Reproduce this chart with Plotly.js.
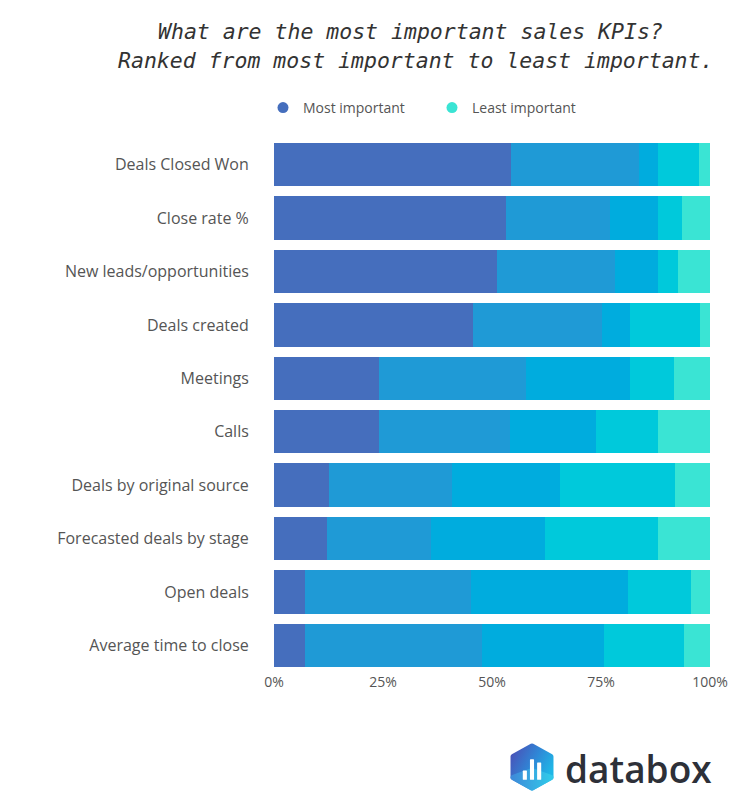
<!DOCTYPE html>
<html>
<head>
<meta charset="utf-8">
<script src="https://cdn.plot.ly/plotly-3.0.1.min.js"></script>
<style>html,body{margin:0;padding:0;background:#fff;} #chart{width:750px;height:809px;}</style>
</head>
<body>
<div id="chart"></div>
<script>
const categories = [
  "Deals Closed Won",
  "Close rate %",
  "New leads/opportunities",
  "Deals created",
  "Meetings",
  "Calls",
  "Deals by original source",
  "Forecasted deals by stage",
  "Open deals",
  "Average time to close"
];
const rank1 = [54.4, 53.2, 51.2, 45.6, 24.1, 24.1, 12.6, 12.2, 7.1, 7.1];
const rank2 = [29.4, 23.9, 27.1, 29.6, 33.6, 30.0, 28.2, 23.8, 38.1, 40.6];
const rank3 = [4.3, 11.0, 9.8, 6.5, 24.0, 19.8, 24.8, 26.2, 35.9, 28.0];
const rank4 = [9.4, 5.5, 4.6, 16.0, 10.0, 14.2, 26.4, 25.9, 14.5, 18.3];
const rank5 = [2.5, 6.4, 7.3, 2.3, 8.3, 11.9, 8.0, 11.9, 4.4, 6.0];
const seriesNames = ["Most important", "Rank 2", "Rank 3", "Rank 4", "Least important"];
const tickValues = [0, 25, 50, 75, 100];
const tickLabels = ["0%", "25%", "50%", "75%", "100%"];
const titleLines = ["What are the most important sales KPIs?", "Ranked from most important to least important."];

const colors = ["#456EBD", "#1F9AD6", "#00ACDE", "#00C9DB", "#3AE4D4"];
const series = [rank1, rank2, rank3, rank4, rank5];

const traces = series.map((vals, i) => ({
  type: "bar",
  orientation: "h",
  name: seriesNames[i],
  x: vals,
  y: categories,
  marker: {color: colors[i], line: {width: 0}},
  showlegend: false,
  hoverinfo: "x+y+name"
}));
// legend entries (circle markers)
[0, 4].forEach(i => traces.push({
  type: "scatter", mode: "markers", name: seriesNames[i],
  x: [null], y: [null],
  marker: {color: colors[i], size: 11, symbol: "circle"},
  showlegend: true, hoverinfo: "skip"
}));

const plotL = 274, plotR = 710, plotT = 138, plotB = 672;
const pw = plotR - plotL, ph = plotB - plotT;
const px = v => (v - plotL) / pw;
const py = v => (plotB - v) / ph;

const iconSvg = '<svg xmlns="http://www.w3.org/2000/svg" width="86" height="94" viewBox="0 0 43 47">' +
  '<defs><linearGradient id="g" x1="0" y1="0" x2="1" y2="0.6">' +
  '<stop offset="0" stop-color="#4B4FB6"/><stop offset="0.55" stop-color="#2F86D6"/><stop offset="1" stop-color="#1FB6E6"/></linearGradient>' +
  '<linearGradient id="h" x1="0" y1="0" x2="1" y2="0"><stop offset="0" stop-color="#3E8FDB"/><stop offset="1" stop-color="#34CBEA"/></linearGradient></defs>' +
  '<polygon points="21.5,3 40,13.2 40,33.8 21.5,44 3,33.8 3,13.2" fill="url(#g)" stroke="url(#g)" stroke-width="5" stroke-linejoin="round"/>' +
  '<polygon points="3,33.8 21.5,27 40,33.8 21.5,44" fill="url(#h)" stroke="url(#h)" stroke-width="5" stroke-linejoin="round" opacity="0.9"/>' +
  '<rect x="12.5" y="27" width="4" height="9" rx="0.6" fill="#fff"/>' +
  '<rect x="19.5" y="16" width="4" height="20" rx="0.6" fill="#fff"/>' +
  '<rect x="26.5" y="19" width="4" height="17" rx="0.6" fill="#fff"/>' +
  '</svg>';

const titleFont = {family: "DejaVu Sans Mono", size: 21.5, color: "#333333", style: "italic"};

const layout = {
  width: 750, height: 809,
  paper_bgcolor: "#ffffff", plot_bgcolor: "#ffffff",
  margin: {l: plotL, r: 750 - plotR, t: plotT, b: 809 - plotB, pad: 0},
  barmode: "stack",
  bargap: 0.19,
  legend: {
    orientation: "h",
    xref: "container", yref: "container",
    x: 263 / 750, xanchor: "left",
    y: 1 - 108 / 809, yanchor: "middle",
    entrywidth: 124, entrywidthmode: "pixels",
    font: {family: "Open Sans", size: 14, color: "#555555"},
    traceorder: "normal",
    bgcolor: "rgba(0,0,0,0)"
  },
  xaxis: {
    range: [0, 100], fixedrange: true,
    tickvals: tickValues, ticktext: tickLabels,
    showgrid: false, zeroline: false, showline: false,
    ticks: "", ticklen: 0,
    tickfont: {family: "Open Sans", size: 14, color: "#555555"}
  },
  yaxis: {
    type: "category", autorange: "reversed",
    showgrid: false, zeroline: false, showline: false,
    ticks: "outside", ticklen: 21, tickcolor: "rgba(0,0,0,0)",
    tickfont: {family: "Open Sans", size: 16, color: "#555555"}
  },
  images: [{
    source: "data:image/svg+xml;charset=utf-8," + encodeURIComponent(iconSvg),
    xref: "paper", yref: "paper",
    x: px(510), y: py(743), sizex: 44 / pw, sizey: 48 / ph,
    xanchor: "left", yanchor: "top", sizing: "stretch", layer: "above"
  }],
  annotations: [
    {text: titleLines[0], showarrow: false, xref: "paper", yref: "paper",
     x: px(410), y: py(31), xanchor: "center", yanchor: "middle", font: titleFont},
    {text: titleLines[1], showarrow: false, xref: "paper", yref: "paper",
     x: px(415), y: py(61), xanchor: "center", yanchor: "middle", font: titleFont},
    {text: "databox", showarrow: false,
     xref: "paper", yref: "paper",
     x: px(563), y: py(769), xanchor: "left", yanchor: "middle",
     font: {family: "Open Sans", size: 37, color: "#2D3038", weight: 600}}
  ]
};

Plotly.newPlot("chart", traces, layout, {displayModeBar: false, staticPlot: true});
</script>
</body>
</html>
